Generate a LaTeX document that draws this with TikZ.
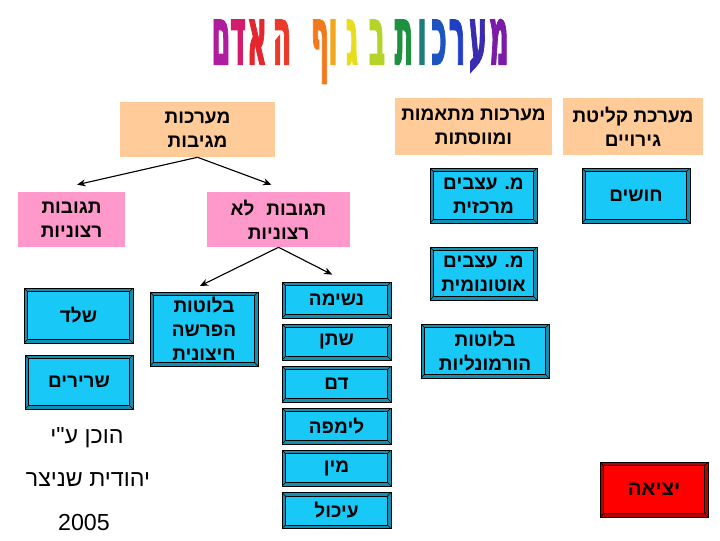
\documentclass[tikz,border=0pt]{standalone}
\usepackage{fontspec}
\usepackage{graphicx}
\setmainfont{Liberation Sans}
\newfontfamily\hebfont[Script=Hebrew]{Liberation Sans}
\newfontfamily\titlefont[Script=Hebrew, BoldFeatures={FakeBold=2.5}]{DejaVu Sans}
\TeXXeTstate=1
\newcommand{\rtl}[1]{\beginR #1\endR}
\usetikzlibrary{arrows,arrows.meta}
\definecolor{peach}{HTML}{FFCC99}
\definecolor{rose}{HTML}{FF99CC}
\definecolor{sky}{HTML}{18C8F6}
\definecolor{alarm}{HTML}{FF0000}
\definecolor{tA}{HTML}{B01CA0}
\definecolor{tB}{HTML}{D41C6C}
\definecolor{tC}{HTML}{E4262E}
\definecolor{tD}{HTML}{EC3A2A}
\definecolor{tE}{HTML}{F07A1C}
\definecolor{tF}{HTML}{F2A81E}
\definecolor{tG}{HTML}{E8DC1E}
\definecolor{tH}{HTML}{B4D42A}
\definecolor{tI}{HTML}{1E9040}
\definecolor{tJ}{HTML}{1E7C7C}
\definecolor{tK}{HTML}{1E54C0}
\definecolor{tL}{HTML}{2040C4}
\definecolor{tM}{HTML}{3A2CB0}
\definecolor{tN}{HTML}{7A1CA8}

\begin{document}
\begin{tikzpicture}[
x=0.025cm, y=-0.025cm,
sz/.style 2 args={minimum width=#1*0.025cm, minimum height=#2*0.025cm},
txt/.style={font=\hebfont\bfseries\fontsize{13.5}{17}\selectfont, align=center, inner sep=1pt, text=black},
flat/.style={txt, fill=#1},
bevel/.style={txt, draw=black, line width=0.5pt, fill=#1!72!black,
  path picture={
    \fill[#1] ([shift={(2.6pt,2.6pt)}]path picture bounding box.south west) rectangle ([shift={(-2.6pt,-2.6pt)}]path picture bounding box.north east);
    \draw[black, line width=0.4pt] ([shift={(2.6pt,2.6pt)}]path picture bounding box.south west) rectangle ([shift={(-2.6pt,-2.6pt)}]path picture bounding box.north east);
    \draw[black, line width=0.3pt] (path picture bounding box.south west) -- ++(2.6pt,2.6pt)
      (path picture bounding box.south east) -- ++(-2.6pt,2.6pt)
      (path picture bounding box.north west) -- ++(2.6pt,-2.6pt)
      (path picture bounding box.north east) -- ++(-2.6pt,-2.6pt);
  }},
credit/.style={font=\hebfont\fontsize{16.5}{16.5}\selectfont, inner sep=1pt},
titlech/.style={font=\titlefont\bfseries\fontsize{57}{57}\selectfont, anchor=base, inner sep=0pt},
arrow/.style={-{Stealth[length=6pt,width=5pt]},line width=0.8pt} ]

\useasboundingbox (0,0) rectangle (720,540);

% title, one letter at a time
\foreach \ch/\cx/\cc in {ם/221/tA, ד/238/tB, א/257/tC, ה/282/tD, ף/320/tE, ו/333/tF, ג/352/tG, ב/377/tH, ת/404/tI, ו/422/tJ, כ/439/tK, ר/457/tL, ע/478/tM, מ/499/tN}
{
  \node[titlech, text=\cc] (ti\cx) at (\cx,64) {\scalebox{0.34}[1]{\ch}};
}

\node[flat=peach, sz={155}{55}] (giv) at (197.5,129.5) {\rtl{מערכות}\\\rtl{מגיבות}};

\node[flat=peach, sz={157}{57}] (coord) at (473.5,126.5) {\rtl{מערכות מתאמות}\\\rtl{ומווסתות}};

\node[flat=peach, sz={140}{57}] (recv) at (633,126.5) {\rtl{מערכת קליטת}\\\rtl{גירויים}};

\node[flat=rose, sz={107}{55}] (vol) at (71.5,219.5) {\rtl{תגובות}\\\rtl{רצוניות}};

\node[flat=rose, sz={143}{55}] (invol) at (278.5,219.5) {\rtl{תגובות\hspace{0.35em} לא}\\\rtl{רצוניות}};

\node[bevel=sky, sz={107}{55}] (cns) at (483.5,195.5) {\rtl{מ. עצבים}\\\rtl{מרכזית}};

\node[bevel=sky, sz={108}{55}] (sense) at (636,195.5) {\rtl{חושים}};

\node[bevel=sky, sz={107}{53}] (ans) at (483.5,273.5) {\rtl{מ. עצבים}\\\rtl{אוטונומית}};

\node[bevel=sky, sz={128}{54}] (horm) at (485,351) {\rtl{בלוטות}\\\rtl{הורמונליות}};

\node[bevel=sky, sz={109}{36}] (breath) at (336.5,300) {\rtl{נשימה}};

\node[bevel=sky, sz={109}{36}] (urine) at (336.5,342) {\rtl{שתן}};

\node[bevel=sky, sz={109}{36}] (blood) at (336.5,384) {\rtl{דם}};

\node[bevel=sky, sz={109}{36}] (lymph) at (336.5,426) {\rtl{לימפה}};

\node[bevel=sky, sz={109}{36}] (sex) at (336.5,468) {\rtl{מין}};

\node[bevel=sky, sz={109}{36}] (digest) at (336.5,510.5) {\rtl{עיכול}};

\node[bevel=sky, sz={109}{55}] (skel) at (78.5,315.5) {\rtl{שלד}};

\node[bevel=sky, sz={108}{54}] (musc) at (79,382) {\rtl{שרירים}};

\node[bevel=sky, sz={108}{74}, font=\hebfont\bfseries\fontsize{13.5}{17}\selectfont] (exo) at (204,329) {\rtl{בלוטות}\\\rtl{הפרשה}\\\rtl{חיצונית}};

\node[bevel=alarm, sz={108}{55}, font=\hebfont\bfseries\fontsize{14.5}{17}\selectfont] (exit) at (654,489.5) {\rtl{יציאה}};

\node[credit] (made) at (87,438) {\rtl{הוכן ע"י}};

\node[credit] (author) at (88,480) {\rtl{יהודית שניצר}};

\node[credit] (year) at (84,522) {2005};

\draw[arrow] (giv.south) -- ([xshift=4pt,yshift=5pt]vol.north);

\draw[arrow] (giv.south) -- ([xshift=-5pt,yshift=5pt]invol.north);

\draw[arrow] (invol.south) -- ([xshift=-3pt,yshift=4pt]exo.north);

\draw[arrow] (invol.south) -- ([xshift=-3pt,yshift=5pt]breath.north);

\end{tikzpicture}
\end{document}
